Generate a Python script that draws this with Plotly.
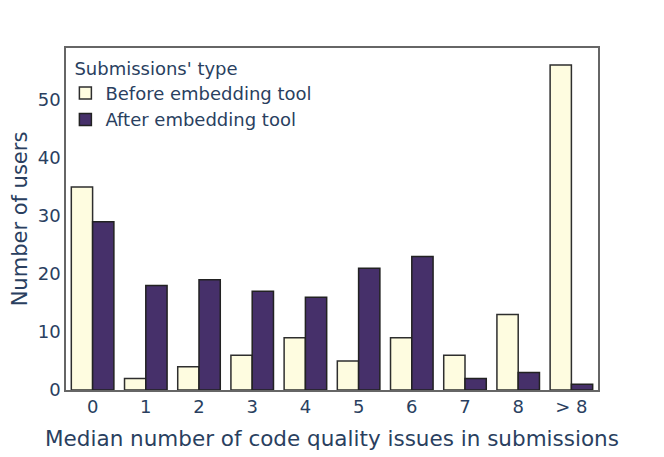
import plotly.graph_objects as go

categories = ["0", "1", "2", "3", "4", "5", "6", "7", "8", "> 8"]
before_tool = [35, 2, 4, 6, 9, 5, 9, 6, 13, 56]
after_tool = [29, 18, 19, 17, 16, 21, 23, 2, 3, 1]

fig = go.Figure()
fig.add_trace(go.Bar(
    x=categories, y=before_tool, name="Before embedding tool",
    marker=dict(color="#FEFCE0", line=dict(color="#2e2e2e", width=1.5)),
))
fig.add_trace(go.Bar(
    x=categories, y=after_tool, name="After embedding tool",
    marker=dict(color="#46306A", line=dict(color="#222222", width=1.5)),
))

fig.update_layout(
    width=664, height=457,
    barmode="group", bargap=0.2, bargroupgap=0,
    plot_bgcolor="white", paper_bgcolor="white",
    font=dict(family="DejaVu Sans", size=18, color="#2a3f5f"),
    margin=dict(l=58, r=74, t=40, b=75),
    legend=dict(
        title=dict(text="Submissions' type", font=dict(size=18)),
        x=0.012, y=0.99, xanchor="left", yanchor="top",
        indentation=-7,
        bgcolor="rgba(0,0,0,0)", font=dict(size=18),
    ),
    xaxis=dict(
        title=dict(text="Median number of code quality issues in submissions", font=dict(size=21.5)),
        showline=True, linecolor="#666", linewidth=1.5, mirror=True,
        ticks="", showgrid=False, tickfont=dict(size=18),
    ),
    yaxis=dict(
        title=dict(text="Number of users", font=dict(size=21)),
        showline=True, linecolor="#666", linewidth=1.5, mirror=True,
        showgrid=False, zeroline=False, dtick=10, tickfont=dict(size=18),
        automargin=False,
    ),
)

fig.write_html("out.html")
